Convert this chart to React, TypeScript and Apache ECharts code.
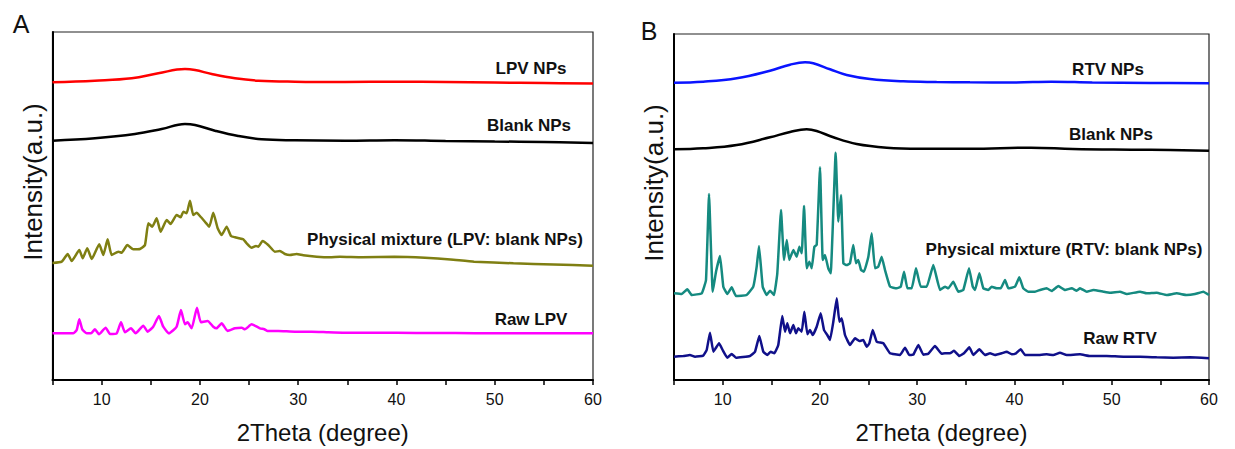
import React, { useEffect, useRef } from "react";
import * as echarts from "echarts";

// 2Theta (degree) vs. intensity (a.u., stacked offsets as drawn)
const xTickLabels = [10, 20, 30, 40, 50, 60];

const lpvNps: number[][] = [
  [5, 297.7], [9.3, 299.3], [13.06, 301.7], [15.76, 306.7], [18.48, 311], [19.5, 310],
  [21.2, 306], [23.57, 301.7], [25.94, 299.3], [29.67, 298.3], [34.75, 298], [40, 298.3],
  [45, 298], [50, 297.5], [55, 297], [60, 296.5],
];
const blankNpsA: number[][] = [
  [5, 239.3], [9.32, 241.7], [13.39, 246], [16.11, 251], [18.48, 256], [19.5, 255],
  [21.53, 249.3], [23.9, 244], [26.28, 240.7], [29.67, 239.7], [34.75, 239.3], [39.8, 239.8],
  [45, 239], [50, 238.5], [55, 238], [60, 237],
];
const mixtureLpv: number[][] = [
  [5, 117], [5.94, 118.3], [6.55, 126], [6.95, 119], [7.73, 130], [8.07, 121.7], [8.54, 131.7],
  [8.99, 121], [9.76, 135.7], [10.17, 125], [10.61, 140.7], [11.02, 125], [11.7, 128.3],
  [12.04, 127.3], [12.61, 135], [13.22, 130.7], [13.9, 131], [14.41, 135], [14.75, 156.7],
  [15.15, 153.3], [15.6, 161.7], [16.0, 148.3], [16.62, 160], [17.02, 156], [17.63, 165],
  [18.04, 162.7], [18.31, 168.3], [18.65, 166.7], [18.99, 179.3], [19.32, 165], [19.67, 167.3],
  [20.0, 164], [20.51, 158.3], [20.95, 153.3], [21.36, 167.3], [21.81, 151.7], [22.21, 145],
  [22.72, 153.3], [23.16, 144], [23.57, 142.7], [24.0, 141.7], [24.41, 140.7], [24.76, 136.7],
  [25.26, 132.3], [25.7, 134], [25.94, 133.3], [26.38, 139], [26.95, 135], [27.63, 128.3],
  [28.14, 129], [28.65, 126], [29.16, 125], [29.84, 126], [30.51, 124.7], [31.88, 123.3],
  [33.23, 122.7], [34.25, 123.3], [36.5, 122.8], [39.8, 123.3], [42.9, 122.3], [45.5, 120.5],
  [47.9, 118.3], [51.9, 116.7], [56, 115.5], [60, 114.3],
];
const rawLpv: number[][] = [
  [5, 46.7], [7.12, 46.7], [7.46, 50], [7.73, 60.7], [8.03, 50.7], [8.48, 46.7], [8.92, 46.7],
  [9.32, 50.7], [9.73, 45.7], [10.41, 52.3], [10.85, 46], [11.53, 46.7], [11.97, 57.7],
  [12.38, 47.7], [12.99, 51.7], [13.46, 46.7], [14.24, 54.3], [14.68, 48.3], [15.25, 53.3],
  [15.83, 64], [16.27, 53.3], [16.85, 46.7], [17.63, 53.3], [18.07, 70], [18.48, 55.7],
  [18.75, 57.7], [19.16, 51.7], [19.7, 72.3], [20.1, 57.7], [20.79, 59], [21.36, 53.3],
  [21.7, 51.7], [22.21, 56.7], [22.82, 49], [23.57, 51.7], [24.25, 52.3], [24.58, 50.7],
  [25.26, 55.7], [26.11, 51.7], [26.55, 50.7], [26.89, 49], [27.97, 49], [29.67, 48.3],
  [31.37, 48.3], [33.06, 47.7], [34.76, 47.3], [38, 47.3], [42, 47], [46, 46.9], [50, 46.8],
  [55, 46.7], [60, 46.7],
];

const rtvNps: number[][] = [
  [5, 297.3], [8.0, 298.3], [11.45, 301.7], [14.87, 309.3], [16.93, 315.3], [18.47, 317.7],
  [19.32, 316.7], [21.04, 310.7], [22.75, 305], [25.15, 301], [28.57, 298.7], [32.0, 298],
  [35.43, 297.7], [40, 297.6], [43.8, 298.3], [48, 297.5], [54, 297], [60, 296.7],
];
const blankNpsB: number[][] = [
  [5, 230.7], [8.0, 231.7], [11.45, 235], [14.87, 242.7], [16.93, 248], [18.64, 250.7],
  [19.67, 249], [21.38, 242.7], [23.78, 236], [26.87, 232.3], [30.29, 231.3], [35.43, 231.3],
  [41.7, 232.3], [46, 231], [52, 230.3], [56, 230], [60, 229.3],
];
const mixtureRtv: number[][] = [
  [5.0, 86.7], [5.79, 86], [6.37, 90.7], [6.82, 85], [7.85, 86.7], [8.29, 100], [8.6, 186],
  [8.98, 88.3], [9.32, 108.3], [9.73, 124], [10.07, 93.3], [10.48, 86], [10.93, 92.7],
  [11.37, 84], [12.47, 85], [13.15, 93.3], [13.5, 113.3], [13.74, 134], [14.12, 93.3],
  [14.53, 85], [14.87, 89.3], [15.28, 85], [15.62, 106.7], [16.0, 170], [16.31, 120],
  [16.59, 140], [16.85, 120], [17.27, 130], [17.61, 123.3], [17.89, 133.3], [18.13, 126.7],
  [18.37, 174], [18.64, 111.7], [18.91, 118.3], [19.16, 111.7], [19.43, 133.3], [19.67, 135],
  [20.01, 212.7], [20.29, 120], [20.52, 125], [20.86, 111.7], [21.11, 106.7], [21.62, 227.3],
  [21.89, 158.3], [22.17, 185], [22.41, 116.7], [22.75, 115], [23.09, 116.7], [23.43, 135],
  [23.71, 116.7], [23.95, 120], [24.23, 110], [24.53, 108.3], [24.98, 123.3], [25.32, 146.7],
  [25.66, 111.7], [26.0, 113.3], [26.35, 123.3], [26.69, 110], [27.21, 93.3], [27.89, 91.7],
  [28.31, 93.3], [28.65, 108.3], [28.99, 91.7], [29.44, 91.7], [29.88, 111.7], [30.36, 93.3],
  [30.98, 93.3], [31.66, 115], [32.35, 90], [32.86, 93.3], [33.2, 91.7], [33.71, 98.3],
  [34.23, 88.3], [34.74, 90], [35.33, 111.7], [35.71, 93.3], [35.95, 90], [36.39, 106.7],
  [36.8, 91.7], [37.31, 90], [37.66, 93.3], [38.18, 91.7], [38.59, 91.7], [39.03, 100],
  [39.37, 91.7], [40.06, 93.3], [40.5, 102.7], [40.91, 91.7], [41.43, 88.3], [42.11, 88.3],
  [42.63, 90], [43.31, 91.7], [43.83, 89], [44.51, 94], [45.2, 90], [45.89, 91.7], [46.4, 89.3],
  [46.74, 91.7], [47.43, 88.3], [48.11, 90], [49.14, 88.3], [49.82, 87.3], [50.85, 88.3],
  [51.54, 86], [52.91, 88.3], [53.6, 86.7], [54.62, 87.3], [55.65, 85], [56.68, 86.7],
  [57.71, 85], [58.56, 86], [59.42, 88.3], [60, 85],
];
const rawRtv: number[][] = [
  [5, 23.3], [5.96, 24], [6.64, 25], [7.16, 23.3], [8.0, 24.3], [8.36, 30], [8.7, 47.3],
  [9.04, 28.3], [9.28, 31.7], [9.63, 36.7], [10.0, 30], [10.48, 22.3], [10.93, 26],
  [11.37, 22.3], [12.81, 24], [13.33, 28.3], [13.77, 44], [14.18, 28.3], [14.59, 25],
  [14.94, 28.3], [15.31, 26.7], [15.72, 35], [16.13, 64], [16.41, 48.3], [16.65, 56.7],
  [16.93, 46.7], [17.27, 55], [17.54, 46.7], [17.78, 51.7], [18.13, 48.3], [18.4, 68.3],
  [18.71, 45.7], [18.98, 50], [19.26, 45], [19.67, 53.3], [20.08, 66.7], [20.42, 50],
  [20.76, 45], [21.04, 40], [21.38, 58.3], [21.73, 81.7], [22.0, 58.3], [22.24, 61.7],
  [22.58, 45], [23.09, 35], [23.61, 41.7], [24.05, 39], [24.46, 40], [24.81, 33.3],
  [25.08, 36.7], [25.43, 50], [25.84, 38.3], [26.52, 36.7], [27.21, 26.7], [28.23, 25],
  [28.75, 32.3], [29.19, 25], [29.6, 25.3], [30.12, 35], [30.63, 25.3], [31.14, 26.3],
  [31.83, 34], [32.52, 26.3], [32.86, 26.7], [33.37, 26.7], [33.79, 29.3], [34.33, 24],
  [34.81, 26.7], [35.36, 32.7], [35.77, 25], [36.39, 30.7], [36.97, 25], [37.49, 26.7],
  [38.0, 25], [38.69, 26.7], [39.2, 28.3], [39.72, 25.7], [40.16, 26.7], [40.64, 30.7],
  [41.09, 25], [42.29, 25], [43.31, 25.7], [44.0, 25], [44.68, 27.3], [45.37, 25],
  [46.74, 25.7], [47.77, 24], [49.48, 24], [51.19, 23.3], [52.91, 23.3], [54.62, 22.7],
  [56.33, 22.3], [58.05, 22.7], [60, 21.7],
];

const FONT = 'Arial, "Liberation Sans", sans-serif';

const gridA = { left: 52.5, top: 32, width: 540.5, height: 348 };
const gridB = { left: 674, top: 34, width: 535, height: 346 };

function xAxisFor(gridIndex: number) {
  return {
    type: "value",
    gridIndex,
    min: 5,
    max: 60,
    interval: 5,
    name: "2Theta (degree)",
    nameLocation: "middle",
    nameGap: 40,
    nameTextStyle: { fontSize: 24, color: "#111", fontFamily: FONT },
    axisLine: { show: true, lineStyle: { color: "#000", width: 2 } },
    axisTick: { show: true, inside: false, length: 5, lineStyle: { color: "#000", width: 1.5 } },
    axisLabel: {
      margin: 11,
      fontSize: 16,
      color: "#111",
      fontFamily: FONT,
      formatter: (v: number) => (xTickLabels.includes(v) ? String(v) : ""),
    },
    splitLine: { show: false },
  };
}

function yAxisFor(gridIndex: number, max: number) {
  return {
    type: "value",
    gridIndex,
    min: 0,
    max,
    axisLine: { show: true, lineStyle: { color: "#000", width: 2 } },
    axisTick: { show: false },
    axisLabel: { show: false },
    splitLine: { show: false },
  };
}

function line(data: number[][], color: string, idx: number, smooth: number | boolean = false) {
  return {
    type: "line",
    xAxisIndex: idx,
    yAxisIndex: idx,
    data,
    showSymbol: false,
    smooth,
    lineStyle: { color, width: 2.5 },
    itemStyle: { color },
    z: 3,
  };
}

function label(text: string, x: number, y: number) {
  return {
    type: "text",
    x,
    y,
    style: {
      text,
      font: `bold 17px ${FONT}`,
      fill: "#111",
      align: "center",
      verticalAlign: "middle",
    },
  };
}

export default function App() {
  const ref = useRef<HTMLDivElement>(null);
  useEffect(() => {
    if (!ref.current) return;
    const chart = echarts.init(ref.current, null, { renderer: "svg" });
    chart.setOption({
      animation: false,
      backgroundColor: "#fff",
      grid: [
        { ...gridA, show: true, borderColor: "#222", borderWidth: 1.2, backgroundColor: "transparent" },
        { ...gridB, show: true, borderColor: "#222", borderWidth: 1.2, backgroundColor: "transparent" },
      ],
      xAxis: [xAxisFor(0), xAxisFor(1)],
      yAxis: [yAxisFor(0, gridA.height), yAxisFor(1, gridB.height)],
      series: [
        line(lpvNps, "#ff0000", 0, 0.4),
        line(blankNpsA, "#000000", 0, 0.4),
        line(mixtureLpv, "#7f7f12", 0, 0.15),
        line(rawLpv, "#ff00ff", 0, 0.15),
        line(rtvNps, "#0a14ff", 1, 0.4),
        line(blankNpsB, "#000000", 1, 0.4),
        line(mixtureRtv, "#158a80", 1, 0.1),
        line(rawRtv, "#10108a", 1, 0.1),
      ],
      graphic: [
        { type: "text", x: 21, y: 24, style: { text: "A", font: `25px ${FONT}`, fill: "#111", align: "center", verticalAlign: "middle" } },
        { type: "text", x: 649, y: 31, style: { text: "B", font: `25px ${FONT}`, fill: "#111", align: "center", verticalAlign: "middle" } },
        { type: "text", x: 32.5, y: 182, rotation: Math.PI / 2, style: { text: "Intensity(a.u.)", font: `26px ${FONT}`, fill: "#111", align: "center", verticalAlign: "middle" } },
        { type: "text", x: 654, y: 183, rotation: Math.PI / 2, style: { text: "Intensity(a.u.)", font: `26px ${FONT}`, fill: "#111", align: "center", verticalAlign: "middle" } },
        label("LPV NPs", 531, 68),
        label("Blank NPs", 529, 125),
        label("Physical mixture (LPV: blank NPs)", 445, 239),
        label("Raw LPV", 531, 319),
        label("RTV NPs", 1108, 69),
        label("Blank NPs", 1111, 134),
        label("Physical mixture (RTV: blank NPs)", 1064, 249),
        label("Raw RTV", 1120, 338),
      ],
    });
    return () => chart.dispose();
  }, []);
  return (
    <div
      ref={ref}
      style={{ position: "absolute", left: 0, top: 0, width: 1235, height: 449 }}
    />
  );
}
